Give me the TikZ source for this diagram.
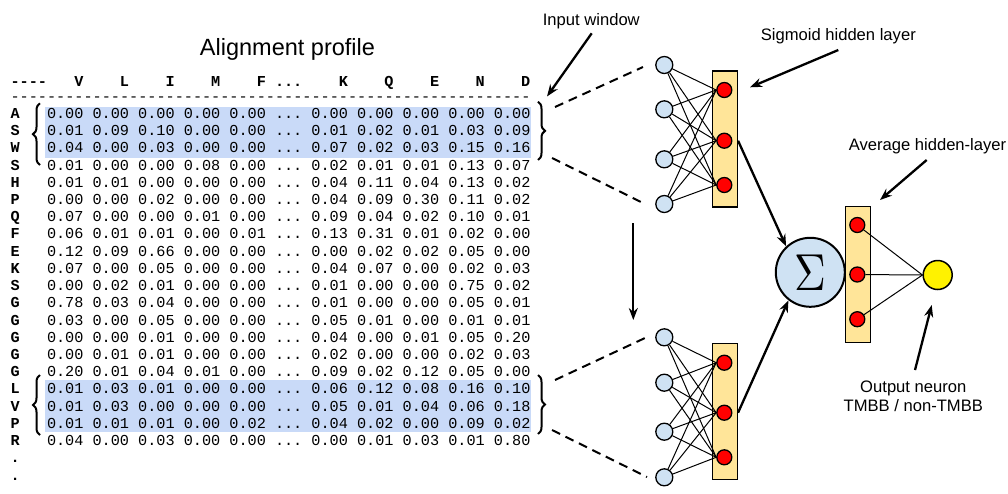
\documentclass[tikz,border=0pt]{standalone}
\usepackage{fontspec}
\setmainfont{Liberation Sans}
\newfontfamily\tabfont{Liberation Mono}
\usetikzlibrary{arrows.meta,decorations.pathreplacing}
\definecolor{hilite}{HTML}{C9DAF8}
\definecolor{inblue}{HTML}{CFE2F3}
\definecolor{boxfill}{HTML}{FFE599}
% the elided columns of the profile
\newcommand{\skipcols}{...}
\begin{document}
\begin{tikzpicture}[x=1pt,y=-1pt,
  tabtxt/.style={font=\tabfont\fontsize{15.2}{17}\selectfont, inner sep=0pt, anchor=base west},
  tabhead/.style={tabtxt, font=\tabfont\bfseries\fontsize{15.2}{17}\selectfont},
  lbl/.style={font=\fontsize{16.6}{18.6}\selectfont, inner sep=0pt, anchor=base},
  inneuron/.style={circle, draw, line width=1.3pt, fill=inblue, minimum size=17pt, inner sep=0pt},
  hidneuron/.style={circle, draw, line width=1.3pt, fill=red, minimum size=15pt, inner sep=0pt},
  layerbox/.style={draw, line width=1.5pt, fill=boxfill, inner sep=0pt, minimum width=25pt, minimum height=136pt},
  wire/.style={line width=1pt},
  callout/.style={line width=2.3pt, -{Stealth[length=12pt,width=9pt]}},
  flow/.style={line width=2.3pt, -{Stealth[length=12pt,width=9pt]}},
  window/.style={line width=2pt, dash pattern=on 9pt off 6pt},
  curly/.style={decorate, decoration={brace, amplitude=7pt}, line width=2pt},
  hiband/.style={fill=hilite, draw=none}]
\useasboundingbox (0,0) rectangle (1008,493);

% ---------- alignment profile ----------
\node[font=\fontsize{23.5}{26}\selectfont, inner sep=0pt, anchor=base] (title) at (287.5,55.1) {Alignment profile};

% highlighted input windows
\fill[hiband] (45,106.7) rectangle (530.7,158.3);
\fill[hiband] (45,380.0) rectangle (530.7,431.6);

% column header
\node[tabhead] (hdash) at (10.4,86.7) {----};
\foreach \c/\t [count=\k] in {3/V, 8/L, 13/I, 18/M, 23/F, 32/K, 37/Q, 42/E, 47/N, 52/D}
  \node[tabhead] (hd\k) at ({46.8+\c*9.12},86.7) {\t};
\node[tabhead] (hdots) at ({46.8+25*9.12},86.7) {\skipcols};
\node[tabtxt] (rule) at (10.4,101.4) {---------------------------------------------------------};

% profile rows
\foreach \lab/\vals [count=\i from 0] in {
  A/0.00 0.00 0.00 0.00 0.00 \skipcols\ 0.00 0.00 0.00 0.00 0.00,
  S/0.01 0.09 0.10 0.00 0.00 \skipcols\ 0.01 0.02 0.01 0.03 0.09,
  W/0.04 0.00 0.03 0.00 0.00 \skipcols\ 0.07 0.02 0.03 0.15 0.16,
  S/0.01 0.00 0.00 0.08 0.00 \skipcols\ 0.02 0.01 0.01 0.13 0.07,
  H/0.01 0.01 0.00 0.00 0.00 \skipcols\ 0.04 0.11 0.04 0.13 0.02,
  P/0.00 0.00 0.02 0.00 0.00 \skipcols\ 0.04 0.09 0.30 0.11 0.02,
  Q/0.07 0.00 0.00 0.01 0.00 \skipcols\ 0.09 0.04 0.02 0.10 0.01,
  F/0.06 0.01 0.01 0.00 0.01 \skipcols\ 0.13 0.31 0.01 0.02 0.00,
  E/0.12 0.09 0.66 0.00 0.00 \skipcols\ 0.00 0.02 0.02 0.05 0.00,
  K/0.07 0.00 0.05 0.00 0.00 \skipcols\ 0.04 0.07 0.00 0.02 0.03,
  S/0.00 0.02 0.01 0.00 0.00 \skipcols\ 0.01 0.00 0.00 0.75 0.02,
  G/0.78 0.03 0.04 0.00 0.00 \skipcols\ 0.01 0.00 0.00 0.05 0.01,
  G/0.03 0.00 0.05 0.00 0.00 \skipcols\ 0.05 0.01 0.00 0.01 0.01,
  G/0.00 0.00 0.01 0.00 0.00 \skipcols\ 0.04 0.00 0.01 0.05 0.20,
  G/0.00 0.01 0.01 0.00 0.00 \skipcols\ 0.02 0.00 0.00 0.02 0.03,
  G/0.20 0.01 0.04 0.01 0.00 \skipcols\ 0.09 0.02 0.12 0.05 0.00,
  L/0.01 0.03 0.01 0.00 0.00 \skipcols\ 0.06 0.12 0.08 0.16 0.10,
  V/0.01 0.03 0.00 0.00 0.00 \skipcols\ 0.05 0.01 0.04 0.06 0.18,
  P/0.01 0.01 0.01 0.00 0.02 \skipcols\ 0.04 0.02 0.00 0.09 0.02,
  R/0.04 0.00 0.03 0.00 0.00 \skipcols\ 0.00 0.01 0.03 0.01 0.80} {
  \node[tabhead] (lab\i) at (10.4,{118.4+\i*17.22}) {\lab};
  \node[tabtxt] (row\i) at (46.8,{118.4+\i*17.22}) {\vals};
}
\node[tabhead] (more1) at (10.4,{118.4+20*17.22}) {.};
\node[tabhead] (more2) at (10.4,{118.4+21*17.22}) {.};

% braces around the two windows
\coordinate (lbA1) at (40,165);   \coordinate (lbA2) at (40,103.3);
\coordinate (rbA1) at (538,101.7); \coordinate (rbA2) at (538,160);
\coordinate (lbB1) at (40,435);   \coordinate (lbB2) at (40,375);
\coordinate (rbB1) at (538,375);  \coordinate (rbB2) at (538,434);
\draw[curly] (lbA1) -- (lbA2);
\draw[curly] (rbA1) -- (rbA2);
\draw[curly] (lbB1) -- (lbB2);
\draw[curly] (rbB1) -- (rbB2);

% ---------- window networks ----------
\node[layerbox] (boxA) at (724.8,139.2) {};
\node[layerbox] (boxB) at (724.8,411.3) {};

\foreach \y [count=\k] in {65,109.3,159.3,204}
  \node[inneuron] (ia\k) at (664.3,\y) {};
\foreach \y [count=\k] in {337.3,382.7,431.7,477.3}
  \node[inneuron] (ib\k) at (664.3,\y) {};
\foreach \y [count=\k] in {90,140.7,185}
  \node[hidneuron] (ha\k) at (724.3,\y) {};
\foreach \y [count=\k] in {362.7,412.7,457.3}
  \node[hidneuron] (hb\k) at (724.3,\y) {};

\foreach \a in {1,2,3,4}
  \foreach \b in {1,2,3} {
    \draw[wire] (ia\a) -- (ha\b.west);
    \draw[wire] (ib\a) -- (hb\b.west);
  }

% window edges fanning out to the input neurons
\coordinate (wA1) at (555,107);  \coordinate (eA1) at (643,67);
\coordinate (wA2) at (552,158);  \coordinate (eA2) at (641,202);
\coordinate (wB1) at (555,380);  \coordinate (eB1) at (645,338);
\coordinate (wB2) at (552,430);  \coordinate (eB2) at (647,477);
\draw[window] (wA1) -- (eA1);
\draw[window] (wA2) -- (eA2);
\draw[window] (wB1) -- (eB1);
\draw[window] (wB2) -- (eB2);

% sliding the window down the profile
\coordinate (slide1) at (633.3,223);
\coordinate (slide2) at (633.3,320);
\draw[line width=1.8pt, -{Stealth[length=12pt,width=9pt]}] (slide1) -- (slide2);

% ---------- averaging and output ----------
\node[circle, draw, line width=2pt, fill=inblue, minimum size=69pt, inner sep=0pt] (sig) at (810.3,272.3) {\scalebox{4.4}[5.2]{$\Sigma$}};
\draw[flow] (boxA.east |- ha2) -- (sig.133);
\draw[flow] (boxB.east |- hb2) -- (sig.232);

\node[layerbox] (boxC) at (857.8,274.7) {};
\foreach \y [count=\k] in {225,274.5,319.2}
  \node[hidneuron] (hc\k) at (857.3,\y) {};
\node[circle, draw, line width=1.5pt, fill=yellow, minimum size=29pt, inner sep=0pt] (out) at (937.7,275) {};
\foreach \k in {1,2,3}
  \draw[wire] (hc\k) -- (out.west);

% ---------- labels ----------
\node[lbl] (tIn) at (591.3,25.2) {Input window};
\coordinate (cIn1) at (591.7,33.3); \coordinate (cIn2) at (547,96.5);
\draw[callout] (cIn1) -- (cIn2);

\node[lbl] (tSig) at (838.3,40.2) {Sigmoid hidden layer};
\coordinate (cSg1) at (838.3,50); \coordinate (cSg2) at (750,87.3);
\draw[callout] (cSg1) -- (cSg2);

\node[lbl] (tAvg) at (927.5,150) {Average hidden-layer};
\coordinate (cAv1) at (926.7,160); \coordinate (cAv2) at (880,200);
\draw[callout] (cAv1) -- (cAv2);

\node[lbl] (tOut1) at (913.3,392.6) {Output neuron};
\node[lbl] (tOut2) at (913.3,411.2) {TMBB / non-TMBB};
\coordinate (cOu1) at (915,370); \coordinate (cOu2) at (931.7,305);
\draw[callout] (cOu1) -- (cOu2);
\end{tikzpicture}
\end{document}
